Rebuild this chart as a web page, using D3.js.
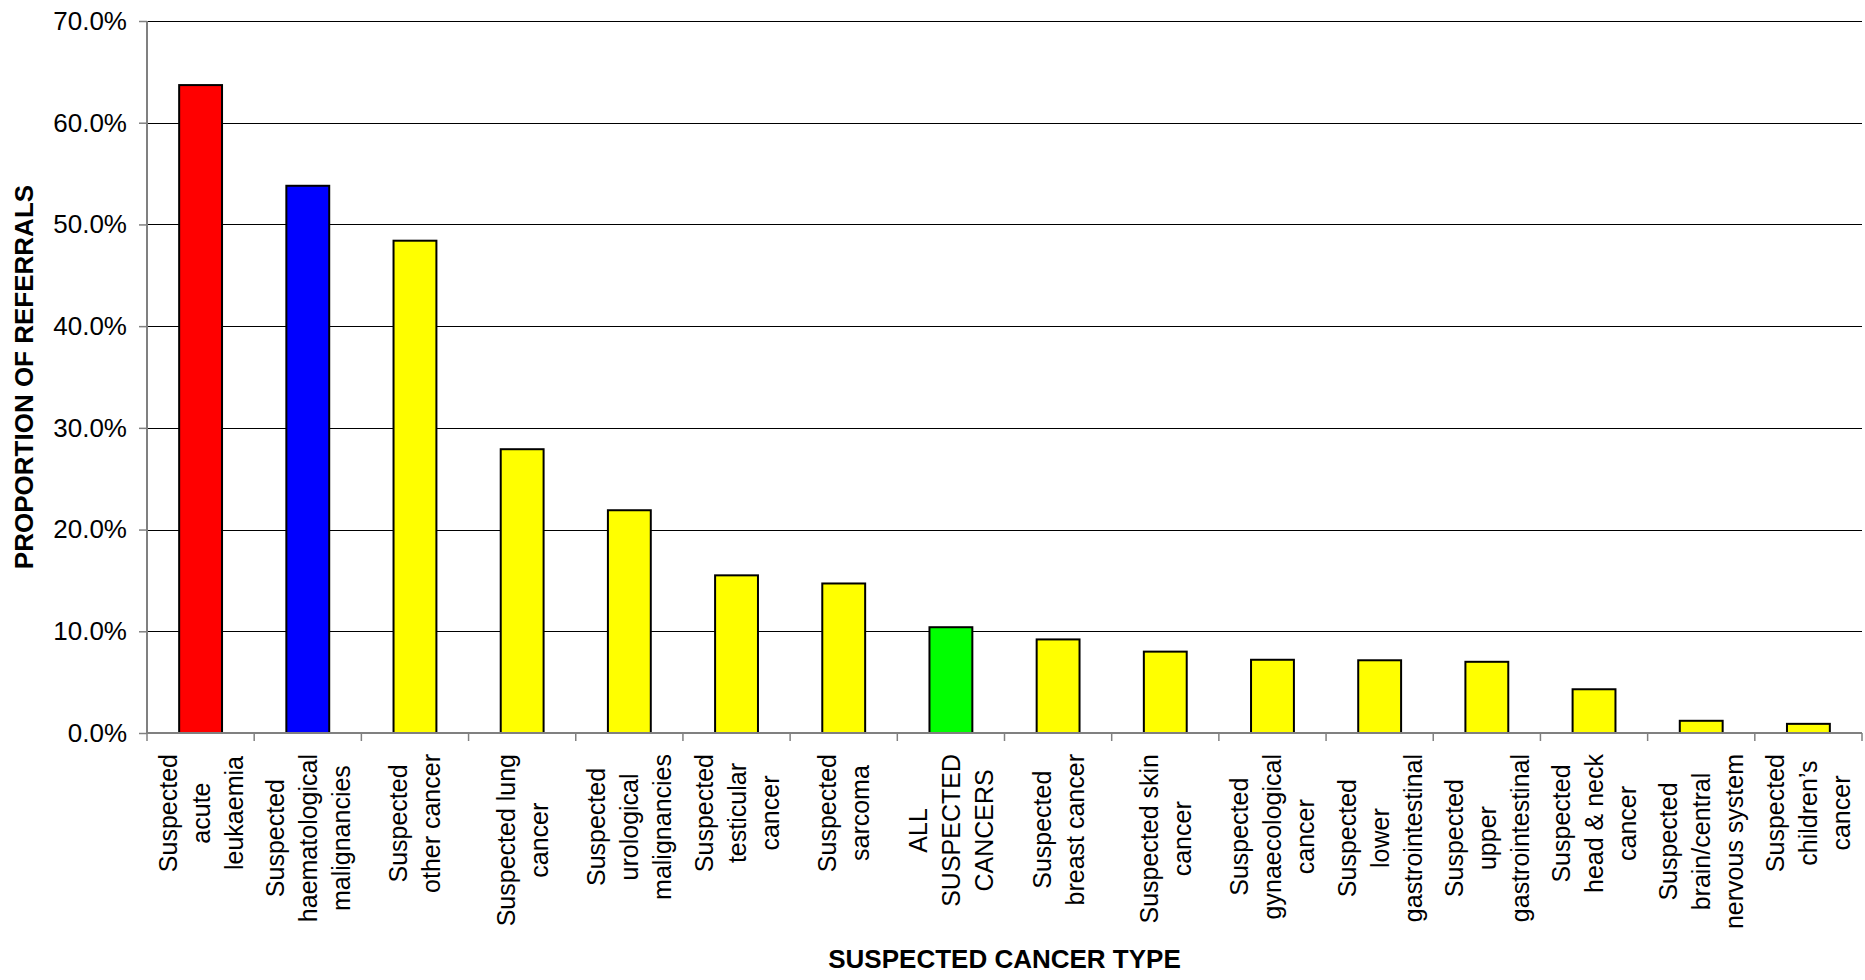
<!DOCTYPE html>
<html>
<head>
<meta charset="utf-8">
<script src="https://cdn.jsdelivr.net/npm/d3@7"></script>
<style>
  body { margin: 0; background: #fff; }
  text { font-family: Arial, "Liberation Sans", sans-serif; fill: #000; }
</style>
</head>
<body>
<svg id="chart" width="1865" height="980"></svg>
<script>
// Suspected cancer types, in plotted order
const categories = [
  "Suspected acute leukaemia",
  "Suspected haematological malignancies",
  "Suspected other cancer",
  "Suspected lung cancer",
  "Suspected urological malignancies",
  "Suspected testicular cancer",
  "Suspected sarcoma",
  "ALL SUSPECTED CANCERS",
  "Suspected breast cancer",
  "Suspected skin cancer",
  "Suspected gynaecological cancer",
  "Suspected lower gastrointestinal",
  "Suspected upper gastrointestinal",
  "Suspected head & neck cancer",
  "Suspected brain/central nervous system",
  "Suspected children’s cancer"
];

// Category tick labels, wrapped as they are printed
const tickLabels = [
  ["Suspected", "acute", "leukaemia"],
  ["Suspected", "haematological", "malignancies"],
  ["Suspected", "other cancer"],
  ["Suspected lung", "cancer"],
  ["Suspected", "urological", "malignancies"],
  ["Suspected", "testicular", "cancer"],
  ["Suspected", "sarcoma"],
  ["ALL", "SUSPECTED", "CANCERS"],
  ["Suspected", "breast cancer"],
  ["Suspected skin", "cancer"],
  ["Suspected", "gynaecological", "cancer"],
  ["Suspected", "lower", "gastrointestinal"],
  ["Suspected", "upper", "gastrointestinal"],
  ["Suspected", "head & neck", "cancer"],
  ["Suspected", "brain/central", "nervous system"],
  ["Suspected", "children’s", "cancer"]
];

// Proportion of referrals for each type
const proportions = [
  0.637, 0.538, 0.484, 0.279, 0.219, 0.155, 0.147, 0.104,
  0.092, 0.080, 0.072, 0.0715, 0.070, 0.043, 0.012, 0.009
];

// Value axis ticks
const yTicks = [0, 0.1, 0.2, 0.3, 0.4, 0.5, 0.6, 0.7];

const yTitle = "PROPORTION OF REFERRALS";
const xTitle = "SUSPECTED CANCER TYPE";

// Highlighted bars; everything else is yellow
const highlightFill = new Map([
  ["Suspected acute leukaemia", "#ff0000"],
  ["Suspected haematological malignancies", "#0000ff"],
  ["ALL SUSPECTED CANCERS", "#00ff00"]
]);
const defaultFill = "#ffff00";

const svg = d3.select("#chart");
const plot = { left: 147, right: 1862, top: 21, bottom: 733 };

const x = d3.scaleBand()
  .domain(categories)
  .range([plot.left, plot.right])
  .paddingInner(0.6)
  .paddingOuter(0.3);

const y = d3.scaleLinear()
  .domain([0, 0.7])
  .range([plot.bottom, plot.top]);

const slot = (plot.right - plot.left) / categories.length;

// Horizontal gridlines
svg.append("g")
  .selectAll("line")
  .data(yTicks.filter(t => t > 0))
  .join("line")
  .attr("x1", plot.left)
  .attr("x2", plot.right)
  .attr("y1", d => Math.round(y(d)) + 0.5)
  .attr("y2", d => Math.round(y(d)) + 0.5)
  .attr("stroke", "#000")
  .attr("stroke-width", 1);

// Bars
svg.append("g")
  .selectAll("rect")
  .data(categories)
  .join("rect")
  .attr("x", d => x(d))
  .attr("width", x.bandwidth())
  .attr("y", (d, i) => y(proportions[i]))
  .attr("height", (d, i) => y(0) - y(proportions[i]))
  .attr("fill", d => highlightFill.get(d) || defaultFill)
  .attr("stroke", "#000")
  .attr("stroke-width", 2);

// Value axis
const yAxis = d3.axisLeft(y)
  .tickValues(yTicks)
  .tickFormat(d3.format(".1%"))
  .tickSize(8)
  .tickPadding(12);

const yg = svg.append("g")
  .attr("transform", `translate(${plot.left},0)`)
  .call(yAxis);
yg.select(".domain").attr("stroke", "#808080").attr("stroke-width", 2)
  .attr("d", `M0,${plot.top}V${plot.bottom}`);
yg.selectAll(".tick line").attr("stroke", "#808080").attr("stroke-width", 1.5);
yg.selectAll(".tick text")
  .attr("font-size", 26)
  .attr("font-family", "Arial, 'Liberation Sans', sans-serif")
  .attr("fill", "#000");

// Category axis line with ticks between categories
const xg = svg.append("g");
xg.append("line")
  .attr("x1", plot.left).attr("x2", plot.right)
  .attr("y1", plot.bottom).attr("y2", plot.bottom)
  .attr("stroke", "#808080").attr("stroke-width", 2);
xg.selectAll("line.tick")
  .data(d3.range(categories.length + 1))
  .join("line")
  .attr("class", "tick")
  .attr("x1", i => plot.left + i * slot)
  .attr("x2", i => plot.left + i * slot)
  .attr("y1", plot.bottom)
  .attr("y2", plot.bottom + 8)
  .attr("stroke", "#808080")
  .attr("stroke-width", 1.5);

// Rotated, wrapped category labels: each line centred, block hung below the axis
const labelTop = plot.bottom + 21;
const lineStep = 33;
categories.forEach((cat, i) => {
  const lines = tickLabels[i];
  const cx = x(cat) + x.bandwidth() / 2;
  const g = svg.append("g");
  const texts = lines.map((ln, j) =>
    g.append("text")
      .attr("text-anchor", "middle")
      .attr("font-size", 25)
      .attr("y", (j - (lines.length - 1) / 2) * lineStep)
      .attr("dy", "0.36em")
      .text(ln)
  );
  const maxLen = d3.max(texts, t => t.node().getComputedTextLength());
  g.attr("transform", `translate(${cx},${labelTop + maxLen / 2}) rotate(-90)`);
});

// Axis titles
svg.append("text")
  .attr("transform", `translate(33,${(plot.top + plot.bottom) / 2}) rotate(-90)`)
  .attr("text-anchor", "middle")
  .attr("font-size", 26)
  .attr("font-weight", "bold")
  .text(yTitle);

svg.append("text")
  .attr("x", (plot.left + plot.right) / 2)
  .attr("y", 968)
  .attr("text-anchor", "middle")
  .attr("font-size", 26)
  .attr("font-weight", "bold")
  .text(xTitle);
</script>
</body>
</html>
